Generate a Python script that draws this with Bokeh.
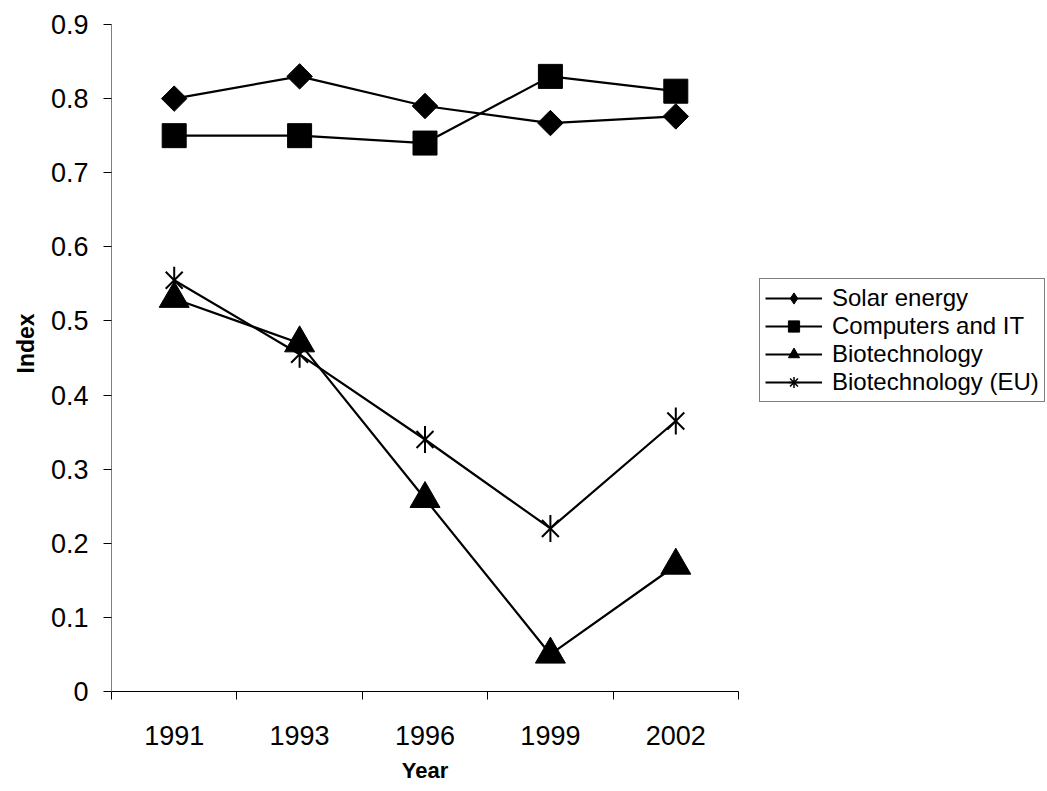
import numpy as np
from bokeh.plotting import figure
from bokeh.models import FixedTicker, Legend, LegendItem, Title, Range1d
from bokeh.embed import file_html
from bokeh.resources import INLINE

years = ["1991", "1993", "1996", "1999", "2002"]
solar = [0.80, 0.83, 0.79, 0.767, 0.776]
computers = [0.75, 0.75, 0.74, 0.83, 0.81]
biotech = [0.53, 0.47, 0.26, 0.05, 0.17]
biotech_eu = [0.555, 0.455, 0.34, 0.22, 0.365]
series_names = ["Solar energy", "Computers and IT", "Biotechnology", "Biotechnology (EU)"]
y_ticks = [0, 0.1, 0.2, 0.3, 0.4, 0.5, 0.6, 0.7, 0.8, 0.9]
y_tick_labels = ["0", "0.1", "0.2", "0.3", "0.4", "0.5", "0.6", "0.7", "0.8", "0.9"]

FONT = "Liberation Sans"
x = [i + 0.5 for i in range(len(years))]

p = figure(frame_width=627, frame_height=667, output_backend="svg", toolbar_location=None,
           x_range=Range1d(0, len(years)), y_range=Range1d(0, 0.9),
           min_border_left=111, min_border_right=309, min_border_top=24, min_border_bottom=100)
p.outline_line_color = None
p.xgrid.visible = False
p.ygrid.visible = False
p.background_fill_color = "white"
p.border_fill_color = "white"

# x axis: labels at category centres, ticks at category boundaries
xa = p.xaxis[0]
xa.ticker = FixedTicker(ticks=x, minor_ticks=list(range(len(years) + 1)))
xa.major_label_overrides = {xi: y for xi, y in zip(x, years)}
xa.major_tick_line_color = None
xa.major_tick_out = 0
xa.major_tick_in = 0
xa.minor_tick_out = 8
xa.minor_tick_in = 0
xa.minor_tick_line_color = "black"
xa.minor_tick_line_width = 1
xa.axis_line_color = "black"
xa.axis_line_width = 1
xa.major_label_text_font = FONT
xa.major_label_text_font_size = "27px"
xa.major_label_text_color = "black"
xa.major_label_standoff = 26

ya = p.yaxis[0]
ya.ticker = FixedTicker(ticks=y_ticks, minor_ticks=[])
ya.major_label_overrides = {t: l for t, l in zip(y_ticks, y_tick_labels)}
ya.major_tick_out = 8
ya.major_tick_in = 0
ya.major_tick_line_color = "black"
ya.axis_line_color = "#808080"
ya.axis_line_width = 1
ya.major_label_text_font = FONT
ya.major_label_text_font_size = "27px"
ya.major_label_text_color = "black"
ya.major_label_standoff = 15

LW = 2.2
items = []
# Solar energy: diamonds (rotated squares); a tiny diamond glyph serves the legend
r1 = p.line(x, solar, line_color="black", line_width=LW)
k1 = p.scatter(x, solar, marker="diamond", size=1, fill_color="black", line_color="black")
m1 = p.scatter(x, solar, marker="square", angle=np.pi / 4, size=18,
               fill_color="black", line_color="black")
items.append(LegendItem(label=series_names[0], renderers=[r1, k1]))
# Computers and IT: squares
r2 = p.line(x, computers, line_color="black", line_width=LW)
m2 = p.scatter(x, computers, marker="square", size=24,
               fill_color="black", line_color="black")
items.append(LegendItem(label=series_names[1], renderers=[r2, m2]))
# Biotechnology: triangles
r3 = p.line(x, biotech, line_color="black", line_width=LW)
m3 = p.scatter(x, biotech, marker="triangle", size=30,
               fill_color="black", line_color="black")
items.append(LegendItem(label=series_names[2], renderers=[r3, m3]))
# Biotechnology (EU): star (x + vertical bar); tiny asterisk glyph serves the legend
r4 = p.line(x, biotech_eu, line_color="black", line_width=LW)
k4 = p.scatter(x, biotech_eu, marker="asterisk", size=1, line_color="black", line_width=1.5)
m4a = p.scatter(x, biotech_eu, marker="x", size=24, line_color="black", line_width=2)
m4b = p.scatter(x, biotech_eu, marker="dash", angle=np.pi / 2, size=27,
                line_color="black", line_width=2)
items.append(LegendItem(label=series_names[3], renderers=[r4, k4]))

legend = Legend(items=items, location=(21, 289))
legend.border_line_color = "black"
legend.border_line_width = 1
legend.background_fill_color = "white"
legend.background_fill_alpha = 1
legend.padding = 5
legend.spacing = 0
legend.margin = 0
legend.glyph_width = 57
legend.glyph_height = 28
legend.label_height = 28
legend.label_standoff = 10
legend.label_text_font = FONT
legend.label_text_font_size = "24px"
legend.label_text_color = "black"
legend.label_text_baseline = "middle"
p.add_layout(legend, "right")

p.add_layout(Title(text="Index", align="left", offset=318, standoff=17,
                   text_font=FONT, text_font_size="23px", text_font_style="bold",
                   text_color="black"), "left")
p.add_layout(Title(text="Year", align="center", standoff=16,
                   text_font=FONT, text_font_size="22px", text_font_style="bold",
                   text_color="black"), "below")

open("out.html", "w").write(file_html(p, INLINE))
